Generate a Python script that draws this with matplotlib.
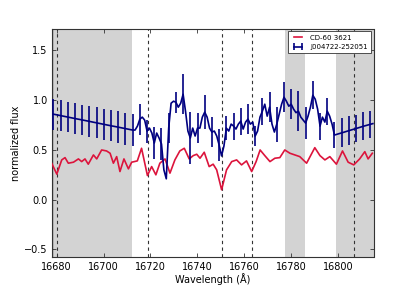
import numpy as np
import matplotlib
matplotlib.use("Agg")
import matplotlib.pyplot as plt

# ---- data ----
red_wl = [16677.9, 16680.1, 16682.2, 16683.6, 16685.0, 16687.2, 16689.3, 16690.7, 16692.1, 16693.5,
          16695.7, 16697.1, 16699.2, 16701.3, 16702.8, 16704.2, 16705.6, 16707.0, 16708.7, 16710.6,
          16712.0, 16714.4, 16716.2, 16718.7, 16720.5, 16722.3, 16724.0, 16726.2, 16728.3, 16730.4,
          16732.5, 16734.4, 16736.5, 16738.2, 16739.7, 16741.1, 16742.9, 16745.0, 16746.7, 16748.2,
          16750.3, 16752.4, 16754.6, 16756.7, 16758.8, 16760.9, 16763.1, 16765.0, 16766.7, 16768.7,
          16770.9, 16773.0, 16775.1, 16777.2, 16779.4, 16781.5, 16783.6, 16786.5, 16790.0, 16792.2,
          16794.3, 16796.4, 16799.2, 16801.8, 16804.2, 16806.6, 16809.1, 16811.3, 16812.7, 16814.5]
red_flux = [0.367, 0.257, 0.40, 0.423, 0.367, 0.377, 0.41, 0.383, 0.41, 0.357,
            0.45, 0.41, 0.50, 0.49, 0.467, 0.367, 0.433, 0.283, 0.41, 0.31,
            0.377, 0.39, 0.517, 0.243, 0.333, 0.25, 0.367, 0.41, 0.267, 0.40,
            0.49, 0.517, 0.41, 0.443, 0.457, 0.417, 0.477, 0.333, 0.357, 0.30,
            0.10, 0.30, 0.383, 0.40, 0.35, 0.39, 0.283, 0.383, 0.50, 0.443,
            0.383, 0.417, 0.423, 0.50, 0.467, 0.45, 0.433, 0.367, 0.523, 0.443,
            0.40, 0.433, 0.357, 0.49, 0.377, 0.35, 0.41, 0.483, 0.41, 0.467]

blue_start = 16678.64
blue_step = 1.0233
blue_flux = [0.86, 0.855, 0.85, 0.845, 0.841, 0.836, 0.831, 0.826, 0.821, 0.816,
             0.811, 0.807, 0.802, 0.797, 0.792, 0.787, 0.782, 0.777, 0.773, 0.768,
             0.763, 0.758, 0.753, 0.748, 0.743, 0.739, 0.734, 0.729, 0.724, 0.719,
             0.714, 0.709, 0.705, 0.70,
             0.70, 0.74, 0.81, 0.83, 0.80, 0.69, 0.72, 0.67, 0.57, 0.67,
             0.62, 0.56, 0.30, 0.21, 0.72, 0.97, 0.99, 0.98, 0.93, 0.97,
             1.06, 0.89, 0.69, 0.62, 0.72, 0.64, 0.72, 0.72, 0.83, 0.88,
             0.83, 0.72, 0.68, 0.69, 0.64, 0.55, 0.44, 0.54, 0.72, 0.69,
             0.76, 0.74, 0.71, 0.76, 0.79, 0.71, 0.78, 0.81, 0.76, 0.78,
             0.64, 0.69, 0.83, 0.89, 0.96, 0.84, 0.93, 0.76, 0.68, 0.76,
             0.86, 0.96, 1.03, 0.99, 0.94, 0.96, 0.91, 0.875, 0.89, 0.83,
             0.80, 0.77, 0.84, 0.93, 1.05, 1.01, 0.91, 0.74, 0.83, 0.78,
             0.89, 0.84, 0.76, 0.65,
             0.657, 0.665, 0.672, 0.679, 0.687, 0.694, 0.701, 0.709, 0.716, 0.723,
             0.731, 0.738, 0.745, 0.753, 0.76, 0.765]
# error bar half-sizes (one for every third point)
blue_err = [0.155, 0.155, 0.155, 0.155, 0.155, 0.155, 0.155, 0.155, 0.155, 0.16,
            0.16, 0.16, 0.155, 0.115, 0.16, 0.16, 0.155, 0.105, 0.2, 0.26,
            0.15, 0.17, 0.155, 0.16, 0.12, 0.135, 0.135, 0.15, 0.10, 0.135,
            0.15, 0.175, 0.15, 0.15, 0.2, 0.16, 0.14, 0.135, 0.135, 0.135,
            0.145, 0.145, 0.14, 0.14, 0.135]

masked_regions = [(16670.0, 16712.2), (16777.2, 16786.0), (16799.0, 16820.0)]
line_positions = [16680.3, 16719.0, 16750.5, 16763.3, 16806.8]

labels = ["CD-60 3621", "J004722-252051"]

# ---- figure ----
fig = plt.figure(figsize=(4.15, 2.86), dpi=100)
ax = fig.add_axes([0.125, 0.1, 0.775, 0.8])

for a, b in masked_regions:
    ax.axvspan(a, b, color="#d3d3d3", lw=0, zorder=0)
ax.axvspan(16670.0, 16679.0, color="#b8b8b8", lw=0, zorder=0)

for w in line_positions:
    ax.axvline(w, color="#333333", ls=(0, (3, 3)), lw=0.8, zorder=1)

ax.plot(red_wl, red_flux, color="#dc143c", lw=1.2, label=labels[0], zorder=3)

bflux = np.array(blue_flux)
bwl = blue_start + blue_step * np.arange(len(bflux))
yerr = np.zeros(len(bflux))
yerr[::3] = np.array(blue_err)[: len(yerr[::3])]
ax.errorbar(bwl, bflux, yerr=yerr, errorevery=3, color="#000080", lw=1.2,
            elinewidth=1.2, capsize=0, label=labels[1], zorder=4)

ax.set_xlim(16678.0, 16815.0)
ax.set_ylim(-0.58, 1.72)
ax.set_xticks([16680, 16700, 16720, 16740, 16760, 16780, 16800])
ax.set_yticks([-0.5, 0.0, 0.5, 1.0, 1.5])
ax.set_yticklabels(["\u22120.5", "0.0", "0.5", "1.0", "1.5"])
ax.tick_params(direction="in", top=True, right=True, length=3, width=0.6,
               labelsize=7, pad=3, color="#333333")
for s in ax.spines.values():
    s.set_linewidth(0.8)
    s.set_color("#333333")

ax.set_xlabel("Wavelength (\u00c5)", fontsize=7, labelpad=1)
ax.set_ylabel("normalized flux", fontsize=7, labelpad=2)

leg = ax.legend(loc="upper right", fontsize=5, numpoints=2, handlelength=1.8,
                handletextpad=0.8, borderpad=0.5, labelspacing=0.5,
                borderaxespad=0.35, fancybox=False, framealpha=1)
leg.get_frame().set_edgecolor("#333333")
leg.get_frame().set_linewidth(0.6)

fig.savefig("out.png", dpi=100, facecolor="white")
